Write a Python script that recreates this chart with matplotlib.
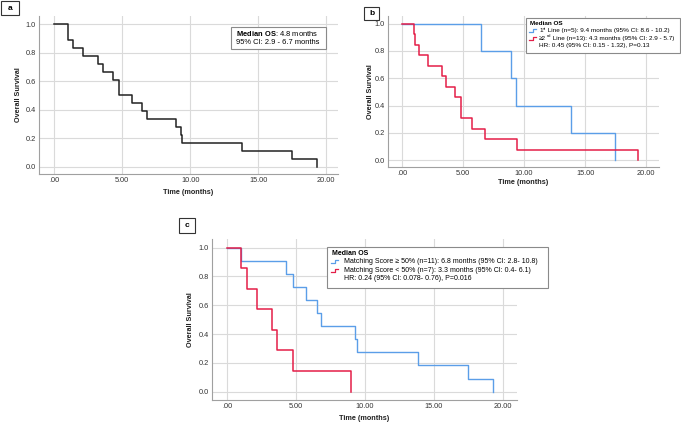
import numpy as np
import matplotlib
matplotlib.use("Agg")
import matplotlib.pyplot as plt
from matplotlib.patches import Rectangle
from matplotlib.lines import Line2D
from matplotlib.text import Annotation

plt.rcParams['font.family'] = ['Liberation Sans', 'DejaVu Sans']
plt.rcParams['mathtext.fontset'] = 'custom'
plt.rcParams['mathtext.rm'] = 'Liberation Sans'
plt.rcParams['mathtext.bf'] = 'Liberation Sans:bold'

# Datos
t_all = [0, 0.98, 1.03, 1.40, 2.13, 3.24, 3.60, 4.29, 4.79, 5.69, 6.48, 6.80, 8.96, 9.30, 9.40, 13.84, 17.47, 19.31]
s_all = [1.0, 0.944, 0.889, 0.833, 0.778, 0.722, 0.667, 0.611, 0.500, 0.444, 0.389, 0.333, 0.278, 0.222, 0.167, 0.111, 0.056, 0.0]

t_1st = [0, 6.48, 8.96, 9.30, 13.84, 17.47]
s_1st = [1.0, 0.8, 0.6, 0.4, 0.2, 0.0]
t_2nd = [0, 0.98, 1.03, 1.40, 2.13, 3.24, 3.60, 4.29, 4.79, 5.69, 6.80, 9.40, 19.31]
s_2nd = [1.0, 0.923, 0.846, 0.769, 0.692, 0.615, 0.538, 0.462, 0.308, 0.231, 0.154, 0.077, 0.0]

t_hi = [0, 1.03, 4.29, 4.79, 5.69, 6.48, 6.80, 9.30, 9.40, 13.84, 17.47, 19.31]
s_hi = [1.0, 0.909, 0.818, 0.727, 0.636, 0.545, 0.455, 0.364, 0.273, 0.182, 0.091, 0.0]
t_lo = [0, 0.98, 1.40, 2.13, 3.24, 3.60, 4.79, 8.96]
s_lo = [1.0, 0.857, 0.714, 0.571, 0.429, 0.286, 0.143, 0.0]

x_ticks = [0, 5, 10, 15, 20]
y_ticks = [0.0, 0.2, 0.4, 0.6, 0.8, 1.0]

AZUL = '#5b9ee8'
ROJO = '#e41e48'
W, H = 681, 422

fig = plt.figure(figsize=(W / 100, H / 100), dpi=100)


def caja(x0, y0, x1, y1):
    # pixeles (origen arriba-izquierda) -> fraccion de figura
    return [x0 / W, 1 - y1 / H, (x1 - x0) / W, (y1 - y0) / H]


def fx(x):
    return x / W


def fy(y):
    return 1 - y / H


def ejes(rect, xlim, ylim, ylab_x, xlab_y):
    ax = fig.add_axes(caja(*rect))
    ax.set_xlim(*xlim)
    ax.set_ylim(*ylim)
    ax.set_xticks(x_ticks)
    ax.set_xticklabels(['.00' if v == 0 else f'{v:.2f}' for v in x_ticks])
    ax.set_yticks(y_ticks)
    ax.set_yticklabels([f'{v:.1f}' for v in y_ticks])
    ax.tick_params(length=0, labelsize=5.3, colors='#333333', pad=2.5)
    ax.grid(True, color='#dadada', lw=0.8)
    ax.set_axisbelow(True)
    for s in ['top', 'right']:
        ax.spines[s].set_visible(False)
    for s in ['left', 'bottom']:
        ax.spines[s].set_color('#a0a0a0')
        ax.spines[s].set_linewidth(0.8)
    mid_y = (rect[1] + rect[3]) / 2
    mid_x = (rect[0] + rect[2]) / 2
    fig.text(fx(ylab_x), fy(mid_y), 'Overall Survival', rotation=90, ha='center', va='center',
             fontsize=5.2, fontweight='bold', color='#222222')
    fig.text(fx(mid_x), fy(xlab_y), 'Time (months)', ha='center', va='center',
             fontsize=5.2, fontweight='bold', color='#222222')
    return ax


def etiqueta(letra, x0, y0, x1, y1):
    fig.patches.append(Rectangle((fx(x0), fy(y1)), fx(x1 - x0), (y1 - y0) / H,
                                 transform=fig.transFigure, fill=False, ec='#333333', lw=0.8))
    fig.text(fx((x0 + x1) / 2), fy((y0 + y1) / 2), letra, ha='center', va='center',
             fontsize=6, fontweight='bold')


def marco(x0, y0, x1, y1):
    fig.patches.append(Rectangle((fx(x0), fy(y1)), fx(x1 - x0), (y1 - y0) / H,
                                 transform=fig.transFigure, fc='white', ec='#8a8a8a', lw=0.8, zorder=5))


def icono(x, y, color):
    # pequeno icono escalonado de la leyenda
    xs = [x, x + 3.5, x + 3.5, x + 7]
    ys = [y + 1.5, y + 1.5, y - 1.5, y - 1.5]
    fig.lines.append(Line2D([fx(v) for v in xs], [fy(v) for v in ys], transform=fig.transFigure,
                            color=color, lw=0.9, zorder=6))


def con_super(x, y, base, sup, resto, fs):
    # texto con superindice, por trozos encadenados (y = centro de la linea)
    t1 = fig.text(fx(x), fy(y), base, fontsize=fs, va='center', zorder=7)
    t2 = Annotation(sup, xy=(1, 0), xycoords=t1, xytext=(0.2, 1.8), textcoords='offset points',
                    fontsize=fs * 0.62, va='bottom', zorder=7)
    fig.add_artist(t2)
    t3 = Annotation(resto, xy=(1, 0), xycoords=(t2, t1), xytext=(0, 0), textcoords='offset points',
                    fontsize=fs, va='bottom', zorder=7)
    fig.add_artist(t3)


# Panel a
ax_a = ejes((39, 16, 338, 174), (-1.13, 20.88), (-0.051, 1.058), 19, 193)
ax_a.step(t_all, s_all, where='post', color='#222222', lw=1.1)
etiqueta('a', 1, 1, 19, 15)
marco(231, 27, 326, 49)
fig.text(fx(236), fy(33.5), r'$\bf{Median\ OS}$: 4.8 months', fontsize=5.4, va='center', zorder=7)
fig.text(fx(236), fy(42), '95% CI: 2.9 - 6.7 months', fontsize=5.4, va='center', zorder=7)

# Panel b
ax_b = ejes((388, 16, 659, 167), (-1.17, 21.06), (-0.049, 1.056), 371, 183)
ax_b.step(t_1st, s_1st, where='post', color=AZUL, lw=1.0)
ax_b.step(t_2nd, s_2nd, where='post', color=ROJO, lw=1.1)
etiqueta('b', 364, 7, 379, 20)
marco(526, 18, 680, 53)
fig.text(fx(530), fy(23.3), 'Median OS', fontsize=4.6, fontweight='bold', va='center', zorder=7)
icono(529, 30.7, AZUL)
con_super(539, 30.7, '1', 'st', ' Line (n=5): 9.4 months (95% CI: 8.6 - 10.2)', 4.6)
icono(529, 38.3, ROJO)
con_super(539, 38.3, '≥2', 'nd', ' Line (n=13): 4.3 months (95% CI: 2.9 - 5.7)', 4.6)
fig.text(fx(539), fy(45.8), 'HR: 0.45 (95% CI: 0.15 - 1.32), P=0.13', fontsize=4.6, va='center', zorder=7)

# Panel c
ax_c = ejes((212, 239, 517, 400), (-1.11, 21.04), (-0.058, 1.06), 191, 418)
ax_c.step(t_hi, s_hi, where='post', color=AZUL, lw=1.0)
ax_c.step(t_lo, s_lo, where='post', color=ROJO, lw=1.1)
etiqueta('c', 179, 218, 195, 233)
marco(327, 247, 548, 288)
fig.text(fx(332), fy(253.5), 'Median OS', fontsize=5.0, fontweight='bold', va='center', zorder=7)
icono(331, 261.7, AZUL)
fig.text(fx(343.5), fy(261.7), 'Matching Score ≥ 50% (n=11): 6.8 months (95% CI: 2.8- 10.8)', fontsize=5.0, va='center', zorder=7)
icono(331, 270, ROJO)
fig.text(fx(343.5), fy(270), 'Matching Score < 50% (n=7): 3.3 months (95% CI: 0.4- 6.1)', fontsize=5.0, va='center', zorder=7)
fig.text(fx(343.5), fy(278.3), 'HR: 0.24 (95% CI: 0.078- 0.76), P=0.016', fontsize=5.0, va='center', zorder=7)

fig.savefig('out.png', dpi=100)
